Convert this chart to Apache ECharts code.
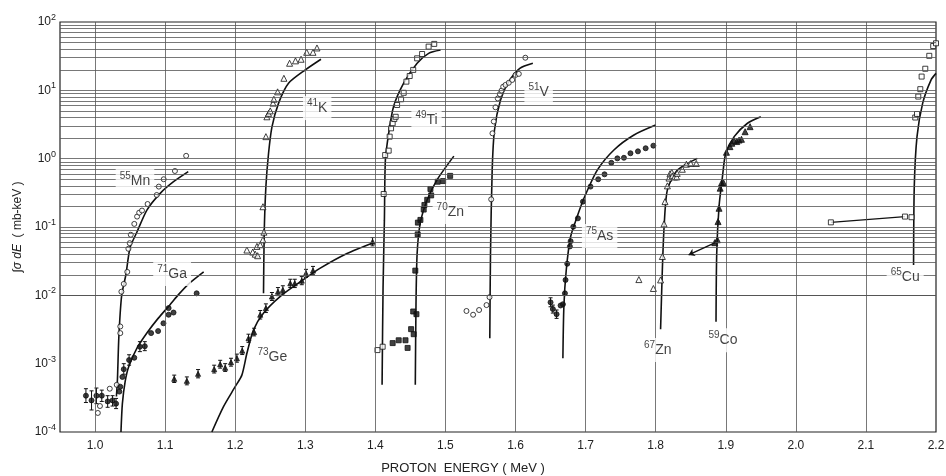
<!DOCTYPE html>
<html><head><meta charset="utf-8">
<script src="https://cdn.jsdelivr.net/npm/echarts@6/dist/echarts.min.js"></script>
<style>html,body{margin:0;padding:0;background:#fff}#c{width:946px;height:476px}</style>
</head><body><div id="c"></div>
<script>
// ---- tick labels ----
const xTickLabels = ['1.0','1.1','1.2','1.3','1.4','1.5','1.6','1.7','1.8','1.9','2.0','2.1','2.2'];
const xGridValues = [1.0,1.1,1.2,1.3,1.4,1.5,1.6,1.7,1.8,1.9,2.0,2.1];
const yDecades = [-4,-3,-2,-1,0,1,2];

// ---- data: [proton energy MeV, integral sigma dE mb-keV] ----
const mnPts = [[1.004,1.9e-4],[1.007,2.4e-4],[1.021,4.3e-4],[1.031,4.9e-4],[1.036,2.8e-3],[1.036,3.5e-3],[1.0376,1.13e-2],[1.041,1.47e-2],[1.046,2.2e-2],[1.0476,4.8e-2],[1.0495,5.8e-2],[1.051,7.7e-2],[1.056,0.111],[1.06,0.142],[1.063,0.162],[1.067,0.174],[1.075,0.217],[1.088,0.294],[1.091,0.39],[1.098,0.50],[1.114,0.66],[1.13,1.1]];
const mnCurve = [[1.0305,3.3e-4],[1.032,6e-4],[1.034,2.5e-3],[1.038,1.0e-2],[1.044,2.0e-2],[1.05,5.0e-2],[1.0595,8.3e-2],[1.074,0.177],[1.093,0.311],[1.112,0.46],[1.133,0.646]];

const gaPts = [[0.987,3.4e-4],[0.995,2.9e-4],[1.002,3.4e-4],[1.0096,3.4e-4],[1.018,2.8e-4],[1.025,2.9e-4],[1.03,2.6e-4],[1.0347,3.9e-4],[1.036,4.6e-4],[1.039,6.4e-4],[1.041,8.3e-4],[1.0486,1.13e-3],[1.056,1.22e-3],[1.064,1.77e-3],[1.071,1.8e-3],[1.08,2.8e-3],[1.09,3.0e-3],[1.0976,3.9e-3],[1.105,6.5e-3],[1.105,5.2e-3],[1.112,5.6e-3],[1.145,1.07e-2]];
const gaErr = [[0.987,2.7e-4,4.3e-4],[0.995,2.1e-4,4.0e-4],[1.002,2.6e-4,4.4e-4],[1.0096,2.8e-4,4.1e-4],[1.018,2.3e-4,3.4e-4],[1.025,2.4e-4,3.4e-4],[1.03,2.2e-4,3.1e-4],[1.041,7.0e-4,1.0e-3],[1.0486,9.5e-4,1.35e-3],[1.064,1.5e-3,2.1e-3],[1.071,1.55e-3,2.1e-3]];
const gaCurve = [[1.037,1e-4],[1.039,2.6e-4],[1.043,5.5e-4],[1.048,9e-4],[1.06,1.7e-3],[1.075,2.9e-3],[1.09,4.6e-3],[1.107,7.3e-3],[1.12,1.05e-2],[1.133,1.45e-2],[1.155,2.2e-2]];

const kPts = [[1.2167,4.6e-2],[1.225,4.3e-2],[1.2286,4.0e-2],[1.232,3.8e-2],[1.231,5.2e-2],[1.2357,5.5e-2],[1.2396,6.5e-2],[1.241,8.4e-2],[1.2396,0.198],[1.2438,2.1],[1.2452,4.1],[1.2476,4.6],[1.25,5.0],[1.254,6.5],[1.2552,7.4],[1.2605,9.5],[1.2695,15],[1.2776,24.9],[1.286,27],[1.294,28.5],[1.302,36],[1.311,36],[1.3167,41.7]];
const kCurve = [[1.2404,1.07e-2],[1.2414,8.1e-2],[1.2438,0.39],[1.2476,1.2],[1.2524,2.9],[1.2619,6.5],[1.2761,12.7],[1.3,19.9],[1.3224,28.5]];

const gePts = [[1.113,6.0e-4],[1.131,5.6e-4],[1.147,7.1e-4],[1.17,8.3e-4],[1.1786,9.8e-4],[1.1857,8.7e-4],[1.194,1.05e-3],[1.2024,1.2e-3],[1.21,1.55e-3],[1.219,2.35e-3],[1.227,2.9e-3],[1.2357,5.2e-3],[1.2438,6.5e-3],[1.2524,9.6e-3],[1.261,1.13e-2],[1.268,1.2e-2],[1.2786,1.5e-2],[1.285,1.5e-2],[1.295,1.64e-2],[1.301,2.1e-2],[1.311,2.3e-2],[1.396,6.1e-2]];
const geErr = [[1.113,5.3e-4,6.8e-4],[1.131,4.9e-4,6.4e-4],[1.147,6.2e-4,8.2e-4],[1.17,7.3e-4,9.5e-4],[1.1786,8.6e-4,1.12e-3],[1.1857,7.7e-4,1.0e-3],[1.194,9.2e-4,1.2e-3],[1.2024,1.05e-3,1.38e-3],[1.21,1.36e-3,1.78e-3],[1.219,2.05e-3,2.7e-3],[1.227,2.55e-3,3.3e-3],[1.2357,4.5e-3,6.0e-3],[1.2438,5.6e-3,7.5e-3],[1.2524,8.4e-3,1.1e-2],[1.261,9.9e-3,1.3e-2],[1.268,1.05e-2,1.38e-2],[1.2786,1.3e-2,1.72e-2],[1.285,1.3e-2,1.72e-2],[1.295,1.43e-2,1.88e-2],[1.301,1.83e-2,2.4e-2],[1.311,2.0e-2,2.65e-2],[1.396,5.3e-2,7.0e-2]];
const geCurve = [[1.1667,1e-4],[1.1833,2.35e-4],[1.2,4.6e-4],[1.2095,6.8e-4],[1.2167,1.42e-3],[1.226,3.1e-3],[1.2405,5.5e-3],[1.264,9.6e-3],[1.293,1.58e-2],[1.3214,2.5e-2],[1.3595,4.1e-2],[1.3976,5.9e-2]];

const tiPts = [[1.403,1.58e-3],[1.4104,1.77e-3],[1.4119,0.304],[1.414,1.13],[1.419,1.31],[1.4204,2.1],[1.4224,2.78],[1.4247,3.3],[1.427,3.8],[1.429,4.1],[1.431,6.1],[1.4367,7.4],[1.4404,9.2],[1.4443,13.4],[1.449,16.2],[1.454,19.9],[1.4596,29.4],[1.4667,34],[1.476,43.6],[1.484,47.8]];
const tiCurve = [[1.4096,4.9e-4],[1.411,1.34e-2],[1.4129,0.126],[1.4143,0.955],[1.419,2.35],[1.426,5.8],[1.4404,12.7],[1.4596,24.9],[1.476,34.8],[1.493,38.9]];

const zn70Pts = [[1.4247,2.0e-3],[1.4333,2.2e-3],[1.443,2.2e-3],[1.446,1.7e-3],[1.451,3.2e-3],[1.4547,2.7e-3],[1.454,5.8e-3],[1.4586,5.3e-3],[1.457,2.3e-2],[1.4604,7.8e-2],[1.4643,0.127],[1.4607,0.116],[1.469,0.18],[1.47,0.21],[1.474,0.25],[1.4796,0.29],[1.4786,0.36],[1.489,0.46],[1.4967,0.47],[1.5067,0.56]];
const zn70Curve = [[1.457,4.9e-4],[1.458,7.6e-3],[1.4596,4.1e-2],[1.464,0.113],[1.474,0.25],[1.488,0.49],[1.512,1.09]];

const vPts = [[1.53,5.9e-3],[1.5395,5.2e-3],[1.548,6.1e-3],[1.5586,7.2e-3],[1.5629,9.4e-3],[1.5653,0.254],[1.5671,2.35],[1.569,3.5],[1.5714,5.65],[1.5747,7.6],[1.5776,8.8],[1.58,9.9],[1.5824,11.3],[1.5857,12],[1.5904,12.9],[1.5953,14.2],[1.6,16.8],[1.6047,17.4],[1.614,30]];
const vCurve = [[1.5633,2.35e-3],[1.5643,4.1e-2],[1.5667,0.68],[1.57,2.63],[1.5786,7.2],[1.5904,13.4],[1.6061,21],[1.6247,24.9]];

const asPts = [[1.65,7.9e-3],[1.6533,6.3e-3],[1.6586,5.3e-3],[1.6643,7.1e-3],[1.6676,7.4e-3],[1.6705,1.07e-2],[1.6714,1.68e-2],[1.6738,2.9e-2],[1.6776,5.2e-2],[1.6786,6.2e-2],[1.6824,0.101],[1.689,0.134],[1.6962,0.235],[1.707,0.39],[1.718,0.50],[1.727,0.59],[1.7367,0.87],[1.7453,1.01],[1.7547,1.03],[1.764,1.2],[1.7747,1.28],[1.7857,1.42],[1.7967,1.55]];
const asErr = [[1.65,6.8e-3,9.2e-3],[1.6533,5.5e-3,7.2e-3],[1.6586,4.6e-3,6.1e-3]];
const asCurve = [[1.6676,1.2e-3],[1.669,6.8e-3],[1.6724,2.35e-2],[1.6786,7.2e-2],[1.688,0.142],[1.6976,0.263],[1.7167,0.68],[1.7404,1.34],[1.769,2.22],[1.8,3.1]];

const zn67Pts = [[1.776,1.7e-2],[1.7967,1.26e-2],[1.807,1.68e-2],[1.8095,3.7e-2],[1.8119,0.111],[1.8133,0.235],[1.8167,0.4],[1.819,0.52],[1.8204,0.60],[1.823,0.63],[1.8238,0.56],[1.827,0.54],[1.83,0.54],[1.8307,0.61],[1.838,0.70],[1.8438,0.83],[1.85,0.85],[1.858,0.85]];
const zn67Curve = [[1.807,3.2e-3],[1.8095,2.35e-2],[1.812,0.1],[1.8167,0.35],[1.831,0.68],[1.8595,1.01]];

const coPts = [[1.8843,5.9e-2],[1.888,6.5e-2],[1.889,0.12],[1.8904,0.188],[1.892,0.37],[1.894,0.44],[1.897,0.44],[1.901,1.24],[1.906,1.5],[1.9086,1.68],[1.912,1.83],[1.9157,1.78],[1.919,1.87],[1.9224,1.92],[1.9276,2.48],[1.9347,2.94]];
const coCurve = [[1.8861,4.1e-3],[1.8871,4.1e-2],[1.8904,0.199],[1.8953,0.546],[1.9,1.2],[1.912,2.1],[1.931,3.3],[1.95,4.1]];
const coArrow = [[1.885,5.9e-2],[1.847,3.9e-2]];

const cuPts = [[2.05,0.117],[2.1557,0.142],[2.165,0.139],[2.1704,4.0],[2.1729,4.5],[2.1747,8.1],[2.1776,10.4],[2.1795,15.9],[2.1847,20.7],[2.1904,32],[2.196,44.5],[2.2,48.8]];
const cuLink = [[2.05,0.117],[2.1557,0.142]];
const cuCurve = [[2.168,2.78e-2],[2.169,0.39],[2.1729,2.1],[2.181,6.5],[2.193,14.2],[2.2,17.7]];

// ---- isotope labels: [mass, element, x, y] ----
const isoLabels = [['55','Mn',1.057,0.47],['71','Ga',1.11,2.05e-2],['41','K',1.317,5.5],['73','Ge',1.253,1.25e-3],['49','Ti',1.473,3.7],['70','Zn',1.507,0.166],['51','V',1.633,9.5],['75','As',1.72,7.4e-2],['67','Zn',1.803,1.58e-3],['59','Co',1.896,2.2e-3],['65','Cu',2.156,1.85e-2]];

// ---- build ----
const hLines = [];
yDecades.forEach(k => { if (k >= 2) return; for (let m = 1; m <= 9; m++) { if (k === -4 && m === 1) continue; hLines.push({yAxis: m * Math.pow(10, k)}); } });
const vLines = xGridValues.map(v => ({xAxis: v}));

const FONT = 'Liberation Sans';
function pts(name, data, symbol, filled, size) {
  return {name, type:'scatter', data, symbol, symbolSize:size, z:4,
    itemStyle:{color: filled ? '#111' : '#fff', borderColor:'#111', borderWidth:1}};
}
function curve(name, data) {
  return {name, type:'line', data, showSymbol:false, symbol:'none', smooth:0.25, z:3,
    lineStyle:{color:'#111', width:1.6}};
}
function errs(name, data) {
  return {name, type:'custom', data, z:3,
    renderItem(params, api) {
      const x = api.value(0), lo = api.value(1), hi = api.value(2);
      const a = api.coord([x, lo]), b = api.coord([x, hi]);
      const st = {stroke:'#111', lineWidth:1};
      return {type:'group', children:[
        {type:'line', shape:{x1:a[0],y1:a[1],x2:b[0],y2:b[1]}, style:st},
        {type:'line', shape:{x1:a[0]-2,y1:a[1],x2:a[0]+2,y2:a[1]}, style:st},
        {type:'line', shape:{x1:b[0]-2,y1:b[1],x2:b[0]+2,y2:b[1]}, style:st}]};
    }};
}

const chart = echarts.init(document.getElementById('c'), null, {renderer:'canvas'});
chart.setOption({
  animation:false,
  backgroundColor:'#fff',
  grid:{left:60, right:10, top:22, bottom:44, show:true, borderColor:'#222', borderWidth:1.2, backgroundColor:'transparent', containLabel:false, outerBoundsMode:'none'},
  xAxis:{type:'value', min:0.95, max:2.2, interval:0.05,
    axisLine:{show:false}, axisTick:{show:false}, splitLine:{show:false},
    axisLabel:{margin:8, color:'#222', fontFamily:FONT, fontSize:12, showMaxLabel:true,
      formatter(v){ const r = Math.round(v*100); if (r % 10 !== 0) return ''; const s = (r/100).toFixed(1); return xTickLabels.indexOf(s) >= 0 ? s : ''; }},
    name:'PROTON  ENERGY ( MeV )', nameLocation:'middle', nameGap:30,
    nameTextStyle:{color:'#222', fontFamily:FONT, fontSize:13, padding:[0,70,0,0]}},
  yAxis:{type:'log', logBase:10, min:1e-4, max:100, interval:1,
    axisLine:{show:false}, axisTick:{show:false}, splitLine:{show:false}, minorTick:{show:false},
    axisLabel:{margin:4, color:'#222', fontFamily:FONT,
      formatter(v){ const e = Math.round(Math.log10(v)); return yDecades.indexOf(e) >= 0 ? '{b|10}{e|' + e + '}' : ''; },
      rich:{b:{fontSize:12, fontFamily:FONT, color:'#222'}, e:{fontSize:9, fontFamily:FONT, color:'#222', padding:[0,0,9,0]}}},
    name:'{i|∫σ dE}  ( mb-keV )', nameLocation:'middle', nameGap:36, nameRotate:90,
    nameTextStyle:{color:'#222', fontFamily:FONT, fontSize:12, rich:{i:{fontStyle:'italic', fontSize:12, fontFamily:FONT, color:'#222'}}}},
  series:[
    {type:'line', data:[], z:1, silent:true,
      markLine:{silent:true, symbol:['none','none'], label:{show:false}, animation:false,
        lineStyle:{color:'#555', width:0.8, type:'solid'}, data: hLines.concat(vLines)}},
    curve('Mn', mnCurve), pts('Mn', mnPts, 'circle', false, 5),
    curve('Ga', gaCurve), errs('GaErr', gaErr), pts('Ga', gaPts, 'circle', true, 5),
    curve('K', kCurve), pts('K', kPts, 'triangle', false, 6),
    curve('Ge', geCurve), errs('GeErr', geErr), pts('Ge', gePts, 'triangle', true, 5),
    curve('Ti', tiCurve), pts('Ti', tiPts, 'rect', false, 5),
    curve('Zn70', zn70Curve), pts('Zn70', zn70Pts, 'rect', true, 5),
    curve('V', vCurve), pts('V', vPts, 'circle', false, 5),
    curve('As', asCurve), errs('AsErr', asErr), pts('As', asPts, 'circle', true, 5),
    curve('Zn67', zn67Curve), pts('Zn67', zn67Pts, 'triangle', false, 6),
    curve('Co', coCurve), pts('Co', coPts, 'triangle', true, 6),
    {type:'line', data:[], z:3, silent:true,
      markLine:{silent:true, symbol:['none','arrow'], symbolSize:6, label:{show:false}, animation:false,
        lineStyle:{color:'#111', width:1.3, type:'solid'},
        data:[[{coord:coArrow[0]},{coord:coArrow[1]}]]}},
    {type:'line', data:cuLink, symbol:'none', z:3, lineStyle:{color:'#111', width:1.3}},
    curve('Cu', cuCurve), pts('Cu', cuPts, 'rect', false, 5),
    {type:'scatter', z:6, silent:true, symbolSize:1, itemStyle:{color:'rgba(0,0,0,0)'},
      data: isoLabels.map(l => ({value:[l[2], l[3]], mass:l[0], el:l[1]})),
      label:{show:true, position:'inside', backgroundColor:'#fff', padding:[2,4],
        formatter(p){ return '{s|' + p.data.mass + '}{m|' + p.data.el + '}'; },
        rich:{s:{fontSize:10, fontFamily:FONT, color:'#111', padding:[0,0,10,0]}, m:{fontSize:14, fontFamily:FONT, color:'#111'}}}}
  ]
});
</script></body></html>
